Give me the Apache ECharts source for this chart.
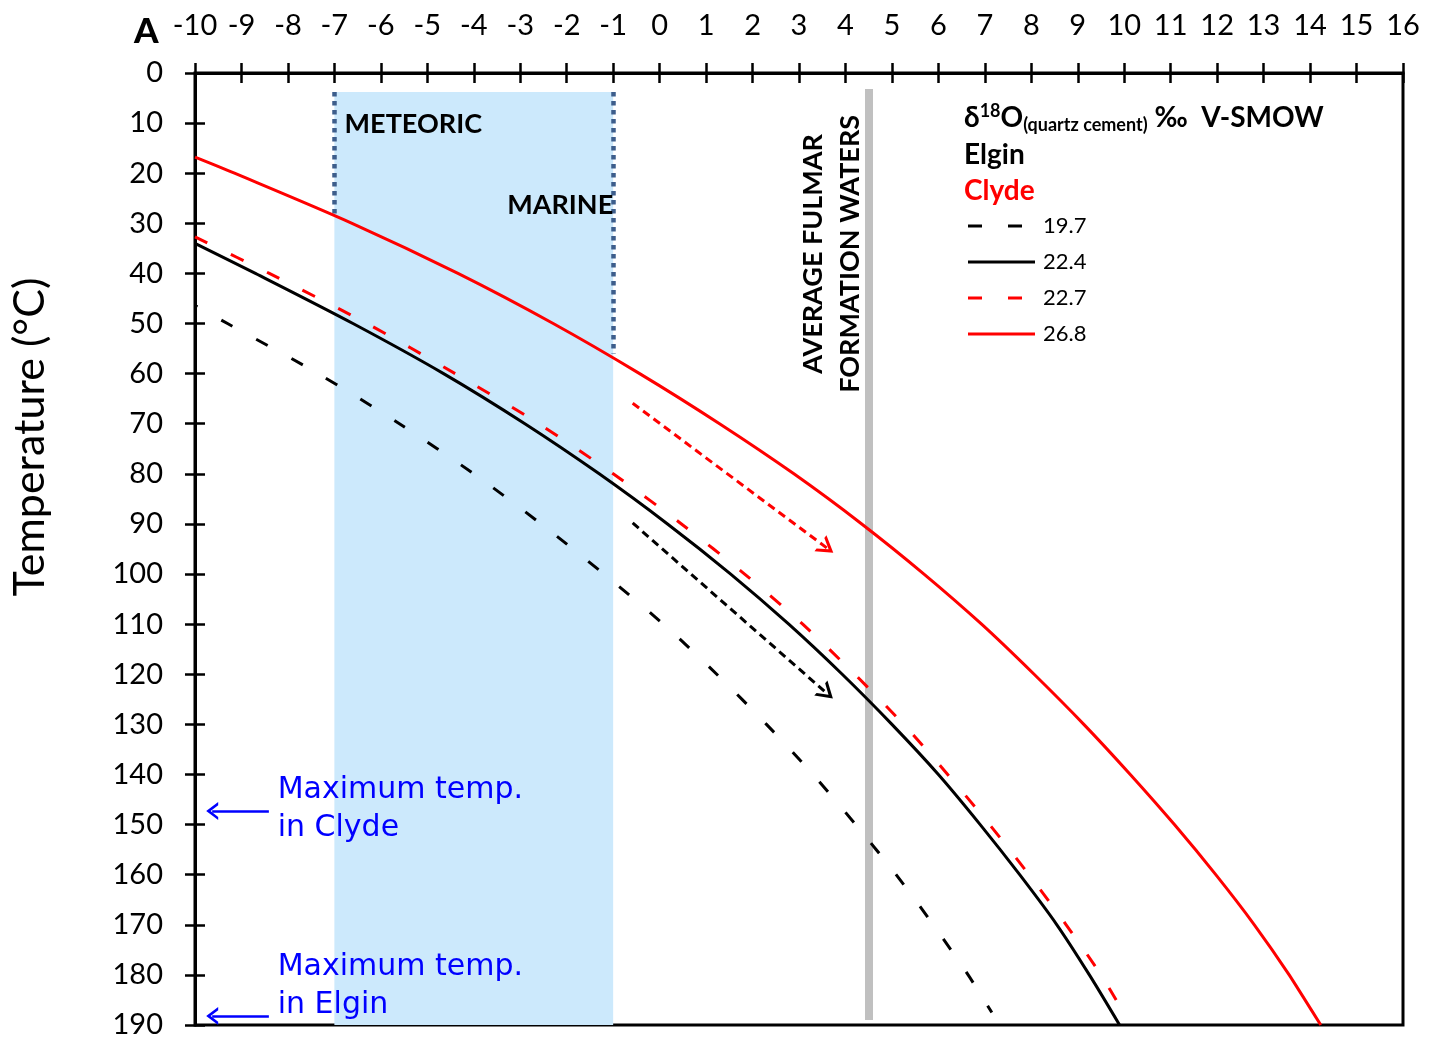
<!DOCTYPE html>
<html><head><meta charset="utf-8">
<script src="https://cdn.jsdelivr.net/npm/echarts@6/dist/echarts.min.js"></script>
<style>html,body{margin:0;padding:0;background:#fff}#c{width:1442px;height:1043px}</style>
</head><body><div id="c"></div>
<script>
// ---- data (x = δ18O water ‰ V-SMOW, T = temperature °C) ----
const seriesNames = ['19.7', '22.4', '22.7', '26.8'];
const elgin197 = [[-10.0,46.4],[-9.3,50],[-7.35,60],[-5.6,70],[-4.0,80],[-2.55,90],[-1.2,100],[0.08,110],[1.23,120],[2.3,130],[3.3,140],[4.22,150],[5.09,160],[5.89,170],[6.64,180],[7.15,187.5]];
const elgin224 = [[-10.0,34],[-8.7,40],[-6.6,50],[-4.65,60],[-2.9,70],[-1.3,80],[0.17,90],[1.53,100],[2.78,110],[3.93,120],[5.0,130],[6.0,140],[6.9,150],[7.75,160],[8.55,170],[9.25,180],[9.9,190]];
const clyde227 = [[-10.0,32.7],[-8.4,40],[-6.3,50],[-4.4,60],[-2.6,70],[-1.0,80],[0.47,90],[1.83,100],[3.08,110],[4.2,120],[5.25,130],[6.2,140],[7.1,150],[7.95,160],[8.75,170],[9.5,180],[9.95,187]];
const clyde268 = [[-10.0,16.8],[-9.15,20],[-6.62,30],[-4.34,40],[-2.29,50],[-0.43,60],[1.29,70],[2.89,80],[4.35,90],[5.69,100],[6.93,110],[8.06,120],[9.13,130],[10.13,140],[11.08,150],[11.97,160],[12.8,170],[13.55,180],[14.23,190]];
const redArrow = [[-0.58,65.9],[3.6,94.8]];
const blackArrow = [[-0.58,89.8],[3.6,123.8]];
const clydeMaxArrow = [[-8.41,147.3],[-9.63,147.3]];
const elginMaxArrow = [[-8.41,188.2],[-9.63,188.2]];
const waterBox = [[-7,3.8],[-1,190]];
const meteoricEdge = [[-7,3.8],[-7,28.2]];
const marineEdge = [[-1,3.8],[-1,56]];
const fulmarWater = [[4.5,3.2],[4.5,189]];
const xRange = [-10, 16, 1];
const yRange = [0, 190, 10];

const FONT = 'Lato';
const chevron = 'path://M10,0 L20,15 L16.5,15 L10,5.5 L3.5,15 L0,15 Z';
const seriesStyles = {
  '19.7': {color: '#000', dash: [13, 27], offset: 10},
  '22.4': {color: '#000', dash: null},
  '22.7': {color: '#ff0000', dash: [14, 26], offset: 0},
  '26.8': {color: '#ff0000', dash: null}
};

const chart = echarts.init(document.getElementById('c'), null, {renderer: 'canvas'});

function xAxisBase(extra) {
  return Object.assign({
    type: 'value', position: 'top', min: xRange[0], max: xRange[1], interval: xRange[2],
    splitLine: {show: false}
  }, extra);
}
function yAxisBase(extra) {
  return Object.assign({
    type: 'value', position: 'left', inverse: true, min: yRange[0], max: yRange[1], interval: yRange[2],
    splitLine: {show: false}
  }, extra);
}
function seg(pts) {
  return [{coord: pts[0], symbol: 'none'}, {coord: pts[1], symbol: 'none'}];
}
function curve(name, data, z) {
  const s = seriesStyles[name];
  return {name: name, type: 'line', data: data, showSymbol: false, symbol: 'none', z: z, smooth: 0.3,
    lineStyle: {color: s.color, width: 3, type: s.dash || 'solid', dashOffset: s.offset || 0}, itemStyle: {color: s.color}};
}

const option = {
  animation: false,
  backgroundColor: '#fff',
  grid: {left: 195, right: 39, top: 73, bottom: 18, show: true, borderColor: '#000', borderWidth: 3, outerBoundsMode: 'none'},
  xAxis: [
    xAxisBase({
      axisLine: {show: true, onZero: false, lineStyle: {color: '#000', width: 3}},
      axisTick: {show: true, inside: false, length: 10, lineStyle: {color: '#000', width: 2.5}},
      axisLabel: {show: true, color: '#000', fontFamily: FONT, fontSize: 29, margin: 33}
    }),
    xAxisBase({
      axisLine: {show: false, onZero: false},
      axisTick: {show: true, inside: true, length: 10, lineStyle: {color: '#000', width: 2.5}},
      axisLabel: {show: false}
    })
  ],
  yAxis: [
    yAxisBase({
      axisLine: {show: true, onZero: false, lineStyle: {color: '#000', width: 3}},
      axisTick: {show: true, inside: false, length: 10, lineStyle: {color: '#000', width: 2.5}},
      axisLabel: {show: true, color: '#000', fontFamily: FONT, fontSize: 29, margin: 32}
    }),
    yAxisBase({
      axisLine: {show: false, onZero: false},
      axisTick: {show: true, inside: true, length: 10, lineStyle: {color: '#000', width: 2.5}},
      axisLabel: {show: false}
    })
  ],
  series: [
    {
      name: 'box', type: 'line', data: [], z: 1, silent: true,
      markArea: {silent: true, itemStyle: {color: '#cce9fc'}, data: [[{coord: waterBox[0]}, {coord: waterBox[1]}]]},
      markLine: {
        silent: true, symbol: 'none', label: {show: false},
        data: [seg(meteoricEdge), seg(marineEdge)],
        lineStyle: {color: '#3d5e8c', width: 4.5, type: [4.5, 4.5], cap: 'butt'}
      }
    },
    {
      name: 'fulmar', type: 'line', data: [], z: 2, silent: true,
      markLine: {
        silent: true, symbol: 'none', label: {show: false},
        data: [seg(fulmarWater)],
        lineStyle: {color: '#c0c0c0', width: 8, type: 'solid', cap: 'butt'}
      }
    },
    curve('19.7', elgin197, 5),
    curve('22.4', elgin224, 5),
    curve('22.7', clyde227, 6),
    curve('26.8', clyde268, 5),
    {
      name: 'arrows', type: 'line', data: [], z: 7, silent: true,
      markLine: {
        silent: true, label: {show: false}, symbolSize: [20, 16],
        data: [
          [{coord: redArrow[0], symbol: 'none', lineStyle: {color: '#ff0000', width: 3, type: [8, 5]}}, {coord: redArrow[1], symbol: chevron, itemStyle: {color: '#ff0000'}}],
          [{coord: blackArrow[0], symbol: 'none', lineStyle: {color: '#000', width: 3, type: [8, 5]}}, {coord: blackArrow[1], symbol: chevron, itemStyle: {color: '#000'}}],
          [{coord: clydeMaxArrow[0], symbol: 'none', lineStyle: {color: '#0000ff', width: 2.5, type: 'solid'}}, {coord: clydeMaxArrow[1], symbol: chevron, symbolSize: [18, 12], itemStyle: {color: '#0000ff'}}],
          [{coord: elginMaxArrow[0], symbol: 'none', lineStyle: {color: '#0000ff', width: 2.5, type: 'solid'}}, {coord: elginMaxArrow[1], symbol: chevron, symbolSize: [18, 12], itemStyle: {color: '#0000ff'}}]
        ]
      }
    }
  ]
};
chart.setOption(option);

// ---- annotations anchored in data coordinates ----
const annotations = [
  {text: 'METEORIC', at: [-6.78, 10.2], align: 'left', bold: true, size: 27},
  {text: 'MARINE', at: [-1.0, 26.5], align: 'right', bold: true, size: 27},
  {text: 'AVERAGE FULMAR', at: [3.31, 36.1], align: 'center', bold: true, size: 27, rot: true},
  {text: 'FORMATION WATERS', at: [4.11, 36.1], align: 'center', bold: true, size: 27, rot: true},
  {text: 'Maximum temp.\nin Clyde', at: [-8.22, 146.9], align: 'left', blue: true},
  {text: 'Maximum temp.\nin Elgin', at: [-8.22, 182.3], align: 'left', blue: true}
];
const graphics = annotations.map(a => {
  const p = chart.convertToPixel({xAxisIndex: 0, yAxisIndex: 0}, a.at);
  return {
    type: 'text', x: p[0], y: p[1], rotation: a.rot ? Math.PI / 2 : 0, z: 20,
    style: {
      text: a.text, align: a.align, verticalAlign: 'middle',
      fontFamily: a.blue ? 'DejaVu Sans' : FONT,
      fontWeight: a.bold ? 'bold' : 'normal',
      fontSize: a.blue ? 30 : a.size,
      lineHeight: a.blue ? 38 : undefined,
      fill: a.blue ? '#0000ff' : '#000'
    }
  };
});
// axis title
graphics.push({
  type: 'text', x: 30, y: 437, rotation: Math.PI / 2, z: 20,
  style: {text: 'Temperature (°C)', fontFamily: FONT, fontSize: 43, fill: '#000', align: 'center', verticalAlign: 'middle'}
});
graphics.push({
  type: 'text', x: 134, y: 32, z: 20,
  style: {text: 'A', fontFamily: FONT, fontWeight: 900, fontSize: 35, fill: '#000', verticalAlign: 'middle'}
});
// legend header
graphics.push({
  type: 'text', x: 964, y: 118, z: 20,
  style: {
    text: '{a|δ}{sup|18}{a|O}{sub|(quartz cement)}{a| ‰  V-SMOW}',
    verticalAlign: 'middle',
    rich: {
      a: {fontFamily: FONT, fontWeight: 'bold', fontSize: 28, fill: '#000'},
      sup: {fontFamily: FONT, fontWeight: 'bold', fontSize: 18, fill: '#000', padding: [0, 0, 14, 0]},
      sub: {fontFamily: FONT, fontWeight: 'bold', fontSize: 18, fill: '#000', padding: [14, 0, 0, 0]}
    }
  }
});
graphics.push({type: 'text', x: 964, y: 155, z: 20,
  style: {text: 'Elgin', fontFamily: FONT, fontWeight: 'bold', fontSize: 28, fill: '#000', verticalAlign: 'middle'}});
graphics.push({type: 'text', x: 964, y: 191, z: 20,
  style: {text: 'Clyde', fontFamily: FONT, fontWeight: 'bold', fontSize: 28, fill: '#ff0000', verticalAlign: 'middle'}});
// legend entries
seriesNames.forEach((name, i) => {
  const s = seriesStyles[name];
  const y = 226 + i * 36;
  graphics.push({type: 'line', z: 20, shape: {x1: 968, y1: y, x2: 1035, y2: y},
    style: {stroke: s.color, lineWidth: 3, lineDash: s.dash ? [14, 26] : null}});
  graphics.push({type: 'text', x: 1043, y: y, z: 20,
    style: {text: name, fontFamily: FONT, fontSize: 22, fill: '#000', verticalAlign: 'middle'}});
});
chart.setOption({graphic: graphics});
</script></body></html>
